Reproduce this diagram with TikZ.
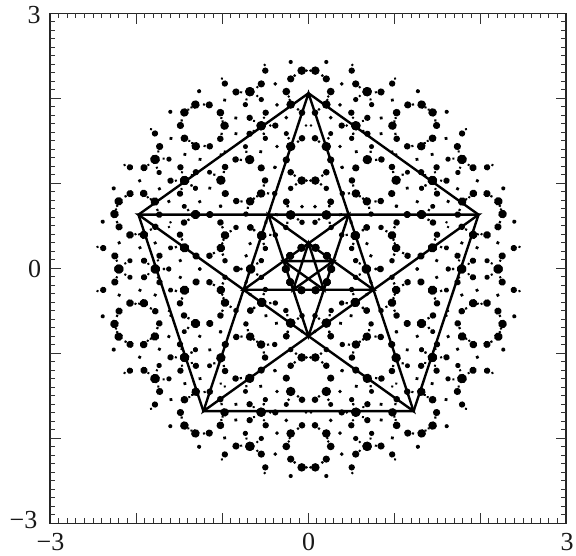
\documentclass[tikz,border=0pt]{standalone}
\usepackage{fontspec}
\setmainfont{Liberation Serif}
\tikzset{
  framepen/.style={line width=1.1pt,black!85},
  tickpen/.style={line width=1pt,black!80},
  starpen/.style={line width=2.4pt,black,line join=miter},
  axlabel/.style={inner sep=0pt,font=\fontsize{26}{26}\selectfont,text=black!90}
}
\begin{document}
\begin{tikzpicture}[x=1pt,y=1pt]
\useasboundingbox (0,0) rectangle (576,555);
\fill[white] (0,0) rectangle (576,555);
% frame
\coordinate (SW) at (50,31.7);
\coordinate (NE) at (566,541.5);
\draw[framepen] (SW) rectangle (NE);
% ticks
\foreach \i in {-29,...,29}{
  \pgfmathsetmacro{\tx}{308+8.6*\i}
  \pgfmathsetmacro{\ty}{286.6+8.497*\i}
  \pgfmathtruncatemacro{\isM}{mod(abs(\i),10)==0 ? 1 : 0}
  \pgfmathsetmacro{\tl}{\isM==1 ? 10.5 : 5}
  \draw[tickpen] (\tx,31.7) -- ++(0,\tl);
  \draw[tickpen] (\tx,541.5) -- ++(0,-\tl);
  \draw[tickpen] (50,\ty) -- ++(\tl,0);
  \draw[tickpen] (566,\ty) -- ++(-\tl,0);
}
% labels
\node[axlabel] (ltop) at (34,539.5) {3};
\node[axlabel] (lmid) at (34.5,286) {0};
\node[axlabel] (lbot) at (23.5,35) {−3};
\node[axlabel] (bleft) at (50.5,13) {−3};
\node[axlabel] (bmid) at (308.5,13) {0};
\node[axlabel] (bright) at (567,13) {3};
\begin{scope}[shift={(308.5,286)},yscale=.983]
  % Bragg peaks: one 18-degree wedge, repeated by the ten-fold mirror symmetry
  \foreach \a in {0,36,...,324}{
    \begin{scope}[rotate=\a]
    \foreach \x/\y/\r in {
      7/21.6/3.4, 6.5/47.5/2.2, 10.5/50.5/1.1, 17.9/55/4, 6.5/63.5/1.5, 20.8/64/1.1, 22.2/68.4/2.7,
      17.8/82/2.2, 12.5/86/1.1, 6.8/90/3.6, 1.9/90/1, 13.8/95/1.1, 17.8/98.4/2.7, 33.6/103.4/1.5,
      22.2/111/3, 17.8/124.6/4, 10.5/129.6/1.1, 6.5/133/2.7, 31.5/124.6/1.5, 19.8/133/1.1, 22.2/137.8/2,
      43.2/132.9/2, 44.7/137.5/1, 2.5/145.9/1, 33.2/145.9/2.6, 38.2/145.9/1, 47.3/145.7/4,
      22.2/154/1.5, 44.5/153.9/1, 42.8/159/2.6, 6.5/159/2.7, 10.5/162.3/1.1, 17.8/167.3/3.6,
      31.5/167/1.5, 18.8/172/1, 47.2/172.4/2.1, 19.8/175.5/1, 51.2/176/1, 22.2/180.5/3.2,
      58.6/180.4/4, 51.2/185/1, 33.2/188.3/1.5, 47.2/188.3/3, 17.8/193.4/3, 13.8/196.8/1.1,
      6.8/201.8/3.6, 1.9/201.8/1, 43.2/201.8/2.6, 43.8/207.6/1, 17.8/210.6/1.6}{
      \pgfmathsetmacro{\rr}{\r*1.12+0.3}
      \fill[black] (\x,\y) circle[radius=\rr] (-\x,\y) circle[radius=\rr];
    }
    \end{scope}
  }
  % nested pentagrams
  \def\Ra{178.8}
  \pgfmathsetmacro{\Rb}{\Ra/2.618034}
  \pgfmathsetmacro{\Rc}{\Rb/2.618034}
  \foreach \k in {0,...,4}{
    \coordinate (a\k) at ({90+72*\k}:\Ra);
    \coordinate (b\k) at ({270+72*\k}:\Rb);
    \coordinate (c\k) at ({90+72*\k}:\Rc);
  }
  \draw[starpen] (a0)--(a1)--(a2)--(a3)--(a4)--cycle;
  \draw[starpen] (a0)--(a2)--(a4)--(a1)--(a3)--cycle;
  \draw[starpen] (b0)--(b2)--(b4)--(b1)--(b3)--cycle;
  \draw[starpen] (c0)--(c2)--(c4)--(c1)--(c3)--cycle;
\end{scope}
\end{tikzpicture}
\end{document}
